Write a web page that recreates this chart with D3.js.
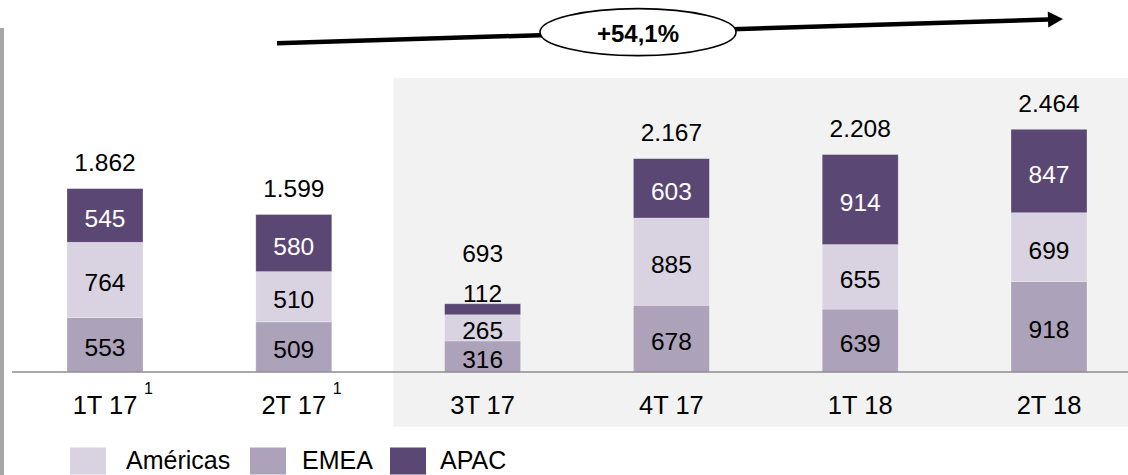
<!DOCTYPE html>
<html>
<head>
<meta charset="utf-8">
<script src="https://cdn.jsdelivr.net/npm/d3@7/dist/d3.min.js"></script>
<style>
  html, body { margin: 0; padding: 0; background: #ffffff; }
  svg { display: block; }
  text { font-family: "Liberation Sans", Arial, sans-serif; }
</style>
</head>
<body>
<svg id="chart" width="1128" height="475"></svg>
<script>
// ---- Data ----
const categories = ["1T 17", "2T 17", "3T 17", "4T 17", "1T 18", "2T 18"];
const footnotes  = ["1", "1", "", "", "", ""];
const emea       = [553, 509, 316, 678, 639, 918];
const americas   = [764, 510, 265, 885, 655, 699];
const apac       = [545, 580, 112, 603, 914, 847];
const totals     = [1862, 1599, 693, 2167, 2208, 2464];
const stackOrder = ["EMEA", "Américas", "APAC"];
const legendOrder = ["Américas", "EMEA", "APAC"];
const growthLabel = "+54,1%";

// ---- Styles ----
const colors = { "Américas": "#d8d2e1", "EMEA": "#aca2ba", "APAC": "#5b4774" };
const labelColors = { "Américas": "#000", "EMEA": "#000", "APAC": "#fff" };
const seriesValues = { "EMEA": emea, "Américas": americas, "APAC": apac };

const svg = d3.select("#chart");
const W = 1128, H = 475;

// ---- Scales ----
const x = d3.scaleBand()
  .domain(categories)
  .range([10.6, 1143.4])
  .paddingInner(0.5975)
  .paddingOuter(0.29875);
const y = d3.scaleLinear().domain([0, 2500]).range([372, 372 - 2500 * 0.0985]);

const rows = categories.map((c, i) => {
  const r = { cat: c };
  stackOrder.forEach(s => r[s] = seriesValues[s][i]);
  return r;
});
const stacked = d3.stack().keys(stackOrder)(rows);

// ---- Left gray rule ----
svg.append("rect").attr("x", 0).attr("y", 28).attr("width", 4).attr("height", H - 28)
  .attr("fill", "#a6a6a6");

// ---- Shaded region (actual quarters) ----
const shadeX = x(categories[2]) - x.step() * 0.272;
svg.append("rect")
  .attr("x", shadeX).attr("y", 78)
  .attr("width", W - shadeX).attr("height", 426.7 - 78)
  .attr("fill", "#f2f2f2");

// ---- Bars ----
const g = svg.append("g");
stacked.forEach(layer => {
  g.selectAll(null).data(layer).enter().append("rect")
    .attr("x", d => x(d.data.cat))
    .attr("width", x.bandwidth())
    .attr("y", d => y(d[1]))
    .attr("height", d => y(d[0]) - y(d[1]))
    .attr("fill", colors[layer.key])
    .attr("stroke", "rgba(255,255,255,0.35)")
    .attr("stroke-width", 0.8);
});

// ---- Baseline ----
svg.append("line")
  .attr("x1", 12).attr("x2", W)
  .attr("y1", y(0)).attr("y2", y(0))
  .attr("stroke", "#8c8c8c").attr("stroke-width", 1.6);

// ---- Segment labels ----
const numFmt = v => d3.format(",")(v).replace(/,/g, ".");
const raisedTotals = {};
stacked.forEach(layer => {
  layer.forEach((d, i) => {
    const h = y(d[0]) - y(d[1]);
    const cx = x(d.data.cat) + x.bandwidth() / 2;
    let cy, fill = labelColors[layer.key];
    if (h < 20) {
      cy = y(d[1]) - 10.5;
      fill = "#000";
      raisedTotals[i] = true;
    } else {
      cy = (y(d[0]) + y(d[1])) / 2 + 3;
    }
    svg.append("text")
      .attr("x", cx).attr("y", cy)
      .attr("text-anchor", "middle")
      .attr("dominant-baseline", "central")
      .attr("font-size", 24.5)
      .attr("fill", fill)
      .text(numFmt(d.data[layer.key]));
  });
});

// ---- Total labels ----
categories.forEach((c, i) => {
  const top = y(stacked[stacked.length - 1][i][1]);
  const cy = top - (raisedTotals[i] ? 50 : 26);
  svg.append("text")
    .attr("x", x(c) + x.bandwidth() / 2).attr("y", cy)
    .attr("text-anchor", "middle")
    .attr("dominant-baseline", "central")
    .attr("font-size", 24.5)
    .attr("fill", "#000")
    .text(numFmt(totals[i]));
});

// ---- Category labels ----
categories.forEach((c, i) => {
  const cx = x(c) + x.bandwidth() / 2;
  svg.append("text")
    .attr("x", cx).attr("y", 414)
    .attr("text-anchor", "middle")
    .attr("font-size", 25.5)
    .attr("fill", "#000")
    .text(c);
  if (footnotes[i]) {
    svg.append("text")
      .attr("x", cx + 39).attr("y", 394)
      .attr("font-size", 16)
      .attr("fill", "#000")
      .text(footnotes[i]);
  }
});

// ---- Growth arrow ----
const ax0 = 277, ay0 = 43.3, ax1 = 1063, ay1 = 19;
const ang = Math.atan2(ay1 - ay0, ax1 - ax0);
const headL = 15, headW = 8;
const bx = ax1 - headL * Math.cos(ang), by = ay1 - headL * Math.sin(ang);
svg.append("line")
  .attr("x1", ax0).attr("y1", ay0).attr("x2", bx).attr("y2", by)
  .attr("stroke", "#000").attr("stroke-width", 4.5);
const px = -Math.sin(ang), py = Math.cos(ang);
svg.append("path")
  .attr("d", `M${ax1},${ay1} L${bx + px * headW},${by + py * headW} L${bx - px * headW},${by - py * headW} Z`)
  .attr("fill", "#000");

const ecx = 638, ecy = ay0 + (ay1 - ay0) * (ecx - ax0) / (ax1 - ax0);
svg.append("ellipse")
  .attr("cx", ecx).attr("cy", ecy).attr("rx", 98).attr("ry", 23.5)
  .attr("fill", "#fff").attr("stroke", "#000").attr("stroke-width", 1.6);
svg.append("text")
  .attr("x", ecx).attr("y", ecy + 1)
  .attr("text-anchor", "middle")
  .attr("dominant-baseline", "central")
  .attr("font-size", 24)
  .attr("font-weight", "bold")
  .attr("fill", "#000")
  .text(growthLabel);

// ---- Legend ----
const legendPos = { "Américas": [70, 126], "EMEA": [250, 302], "APAC": [390, 440] };
legendOrder.forEach(s => {
  const [sx, tx] = legendPos[s];
  svg.append("rect")
    .attr("x", sx).attr("y", 447.5).attr("width", 36).attr("height", 27)
    .attr("fill", colors[s]);
  svg.append("text")
    .attr("x", tx).attr("y", 469)
    .attr("font-size", 25)
    .attr("fill", "#000")
    .text(s);
});
</script>
</body>
</html>
